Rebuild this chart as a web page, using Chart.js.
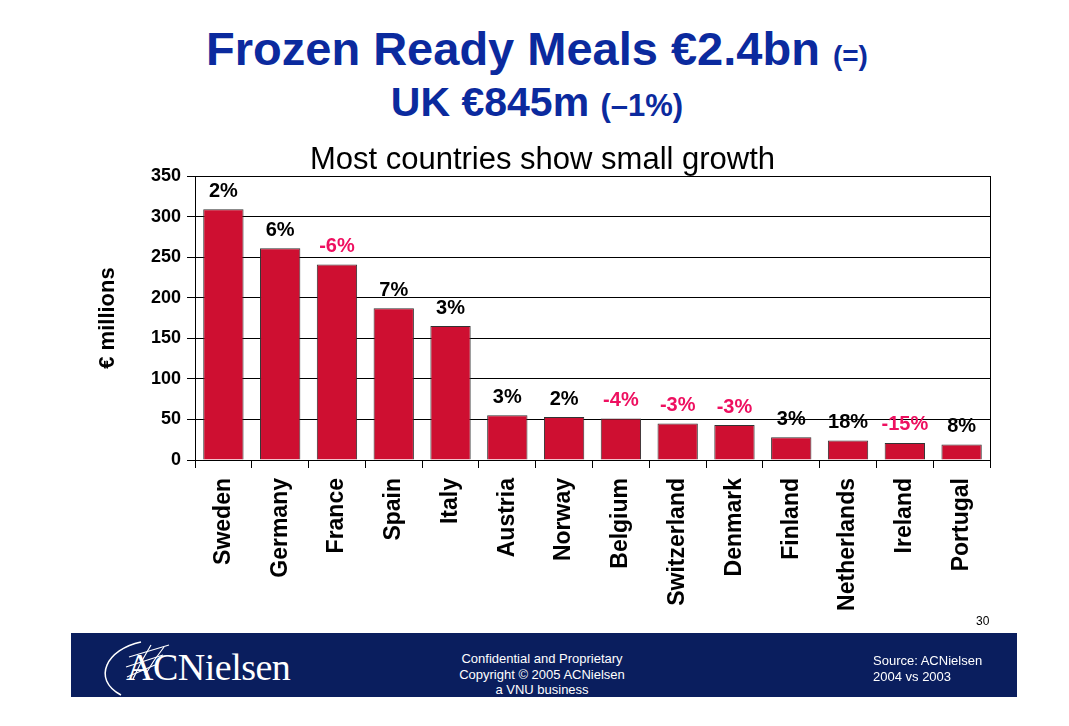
<!DOCTYPE html>
<html>
<head>
<meta charset="utf-8">
<script src="https://cdn.jsdelivr.net/npm/chart.js@4.4.0/dist/chart.umd.min.js"></script>
<style>
body { margin: 0; background: #fff; font-family: Arial, "Liberation Sans", sans-serif; }
#page { position: relative; width: 1069px; height: 726px; overflow: hidden; }
.title { position: absolute; left: 0; width: 1074px; text-align: center; color: #0B2A9E; font-weight: bold; white-space: nowrap; }
#title1 { top: 23px; font-size: 47px; line-height: 52px; }
#title2 { top: 79px; font-size: 41px; line-height: 46px; }
.small1 { font-size: 28px; }
.small2 { font-size: 31px; }
#subtitle { position: absolute; left: 0; width: 1085px; top: 141px; text-align: center; font-size: 31px; line-height: 36px; color: #000; }
#chartBox { position: absolute; left: 0; top: 140px; }
#footer { position: absolute; left: 71px; top: 633px; }
.foot { position: absolute; color: #fff; font-size: 13px; line-height: 15.5px; }
#pageNum { position: absolute; left: 976px; top: 614px; font-size: 12px; color: #000; }
</style>
</head>
<body>
<div id="page">
  <div id="title1" class="title">Frozen Ready Meals €2.4bn <span class="small1">(=)</span></div>
  <div id="title2" class="title">UK €845m <span class="small2">(–1%)</span></div>
  <div id="chartBox"><canvas id="salesChart" width="1069" height="480"></canvas></div>
  <div id="subtitle">Most countries show small growth</div>
  <div id="pageNum">30</div>
  <svg id="footer" width="946" height="64">
    <rect width="946" height="64" fill="#0A1E5E"/>
    <path d="M70 9 C 36 16, 20 46, 50 62" stroke="#fff" fill="none" stroke-width="1.5"/>
    <path d="M58 24 L 98 12" stroke="#fff" fill="none" stroke-width="1.2"/>
    <path d="M55 34 L 92 22" stroke="#fff" fill="none" stroke-width="1.2"/>
    <path d="M56 44 L 84 32" stroke="#fff" fill="none" stroke-width="1.2"/>
    <path d="M80 12 Q 70 28 62 46" stroke="#fff" fill="none" stroke-width="1.2"/>
    <path d="M93 14 Q 82 28 74 42" stroke="#fff" fill="none" stroke-width="1.2"/>
    <text x="55" y="47" font-family="'Liberation Serif', 'Times New Roman', serif" font-size="38" letter-spacing="-0.5" fill="#fff">ACNielsen</text>
  </svg>
  <div class="foot" style="left:442px;width:200px;top:651px;text-align:center;">Confidential and Proprietary<br>Copyright © 2005 ACNielsen<br>a VNU business</div>
  <div class="foot" style="left:873px;top:653px;">Source: ACNielsen<br>2004 vs 2003</div>
</div>
<script>
// Chart data
var countries = ["Sweden", "Germany", "France", "Spain", "Italy", "Austria", "Norway", "Belgium", "Switzerland", "Denmark", "Finland", "Netherlands", "Ireland", "Portugal"];
var sales = [309, 261, 241, 187, 165, 55, 53, 51, 45, 43, 28, 24, 21, 19];
var growth = ["2%", "6%", "-6%", "7%", "3%", "3%", "2%", "-4%", "-3%", "-3%", "3%", "18%", "-15%", "8%"];
var yMin = 0, yMax = 350, yStep = 50;

var fontFamily = 'Arial, "Liberation Sans", sans-serif';

// Draw the growth percentages above each bar
var growthLabels = {
    id: 'growthLabels',
    afterDatasetsDraw: function(chart) {
        var ctx = chart.ctx;
        var meta = chart.getDatasetMeta(0);
        ctx.save();
        ctx.font = 'bold 20px ' + fontFamily;
        ctx.textAlign = 'center';
        ctx.textBaseline = 'bottom';
        meta.data.forEach(function(bar, i) {
            ctx.fillStyle = growth[i].charAt(0) === '-' ? '#EE1060' : '#000';
            ctx.fillText(growth[i], bar.x, bar.y - 8);
        });
        ctx.restore();
    }
};

var ctx = document.getElementById('salesChart').getContext('2d');
var salesChart = new Chart(ctx, {
    type: 'bar',
    data: {
        labels: countries,
        datasets: [{
            data: sales,
            backgroundColor: '#CE0F31',
            borderColor: '#333',
            borderWidth: 1,
            barPercentage: 0.71,
            categoryPercentage: 1
        }]
    },
    plugins: [growthLabels],
    options: {
        responsive: false,
        animation: false,
        layout: { padding: { left: 91, right: 79, top: 36, bottom: 0 } },
        plugins: {
            legend: { display: false },
            tooltip: { enabled: false }
        },
        scales: {
            x: {
                grid: { drawOnChartArea: false, drawTicks: true, tickLength: 8, color: '#000' },
                border: { color: '#000' },
                ticks: {
                    autoSkip: false,
                    minRotation: 90,
                    maxRotation: 90,
                    padding: 10,
                    color: '#000',
                    font: { family: fontFamily, size: 23, weight: 'bold' }
                },
                afterFit: function(scale) { scale.height = 160; }
            },
            y: {
                min: yMin,
                max: yMax,
                ticks: {
                    stepSize: yStep,
                    padding: 6,
                    color: '#000',
                    font: { family: fontFamily, size: 18, weight: 'bold' }
                },
                grid: { color: '#000', tickLength: 8 },
                border: { color: '#000' },
                title: {
                    display: true,
                    text: '€ millions',
                    color: '#000',
                    font: { family: fontFamily, size: 22, weight: 'bold' },
                    padding: { top: 4, bottom: 4 }
                },
                afterFit: function(scale) { scale.width = 104; }
            },
            y2: {
                position: 'right',
                ticks: { display: false },
                grid: { display: false, drawTicks: false },
                border: { display: true, color: '#000' },
                afterFit: function(scale) { scale.width = 0; }
            }
        }
    }
});
</script>
</body>
</html>
